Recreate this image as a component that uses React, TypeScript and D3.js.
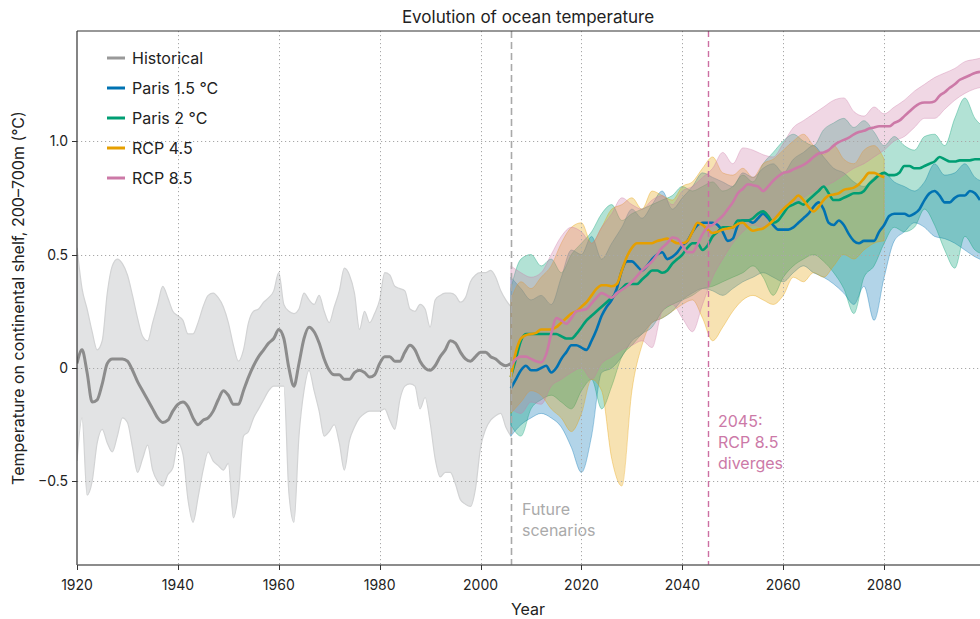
import React from 'react';
import * as d3 from 'd3';

const width = 980;
const height = 619;
const plot = { left: 77, right: 980, top: 31, bottom: 565 };
const font = 'Inter, "Noto Sans", sans-serif';

// historical record, 1920-2006
const histYears = d3.range(1920, 2007);
const histMean = [
  0.02, 0.08, -0.02, -0.15, -0.14, -0.07, 0.02, 0.04, 0.04, 0.04,
  0.03, -0.01, -0.06, -0.10, -0.14, -0.18, -0.22, -0.24, -0.23, -0.19,
  -0.16, -0.15, -0.17, -0.22, -0.25, -0.23, -0.22, -0.19, -0.14, -0.10,
  -0.12, -0.16, -0.16, -0.10, -0.04, 0.01, 0.05, 0.08, 0.11, 0.13,
  0.17, 0.13, 0.00, -0.08, 0.02, 0.13, 0.18, 0.16, 0.11, 0.04,
  -0.01, -0.03, -0.03, -0.05, -0.05, -0.02, -0.01, -0.02, -0.04, -0.03,
  0.02, 0.05, 0.05, 0.03, 0.03, 0.07, 0.10, 0.08, 0.03, 0.00,
  -0.01, 0.01, 0.05, 0.08, 0.12, 0.11, 0.07, 0.04, 0.03, 0.05,
  0.07, 0.07, 0.05, 0.04, 0.02, 0.01, 0.02,
];
const histUpper = [
  0.53, 0.35, 0.26, 0.16, 0.08, 0.12, 0.33, 0.45, 0.48, 0.46,
  0.41, 0.32, 0.22, 0.14, 0.12, 0.20, 0.28, 0.36, 0.31, 0.25,
  0.23, 0.21, 0.15, 0.15, 0.20, 0.27, 0.32, 0.33, 0.31, 0.27,
  0.20, 0.10, 0.03, 0.08, 0.20, 0.25, 0.26, 0.29, 0.31, 0.34,
  0.42, 0.28, 0.25, 0.24, 0.26, 0.33, 0.30, 0.28, 0.32, 0.25,
  0.20, 0.27, 0.34, 0.44, 0.41, 0.33, 0.17, 0.25, 0.20, 0.24,
  0.30, 0.42, 0.41, 0.36, 0.35, 0.34, 0.26, 0.25, 0.28, 0.26,
  0.18, 0.30, 0.32, 0.33, 0.33, 0.32, 0.29, 0.31, 0.38, 0.41,
  0.42, 0.42, 0.43, 0.40, 0.34, 0.30, 0.27,
];
const histLower = [
  -0.41, -0.22, -0.56, -0.50, -0.33, -0.27, -0.33, -0.37, -0.30, -0.22,
  -0.24, -0.35, -0.46, -0.40, -0.34, -0.45, -0.50, -0.52, -0.47, -0.44,
  -0.33, -0.38, -0.58, -0.68, -0.57, -0.45, -0.37, -0.41, -0.43, -0.45,
  -0.42, -0.66, -0.55, -0.30, -0.28, -0.22, -0.18, -0.14, -0.10, -0.08,
  -0.08, -0.08, -0.55, -0.68, -0.30, -0.10, -0.01, -0.10, -0.19, -0.30,
  -0.28, -0.25, -0.33, -0.45, -0.32, -0.26, -0.22, -0.20, -0.19, -0.19,
  -0.19, -0.18, -0.23, -0.27, -0.14, -0.08, -0.07, -0.08, -0.18, -0.13,
  -0.24, -0.40, -0.48, -0.46, -0.46, -0.51, -0.58, -0.60, -0.61, -0.53,
  -0.35, -0.27, -0.23, -0.21, -0.20, -0.26, -0.30,
];

// scenario means, yearly
const futureYears = d3.range(2006, 2100);
const rcp45Years = d3.range(2006, 2081);
const paris15Mean = [
  -0.09, -0.05, -0.01, 0.01, -0.01, -0.01, 0.00, 0.01, -0.02, 0.00,
  0.04, 0.07, 0.10, 0.10, 0.09, 0.08, 0.12, 0.17, 0.23, 0.27,
  0.30, 0.35, 0.43, 0.47, 0.47, 0.45, 0.43, 0.45, 0.48, 0.50,
  0.51, 0.48, 0.49, 0.51, 0.54, 0.56, 0.60, 0.63, 0.64, 0.64,
  0.64, 0.63, 0.60, 0.56, 0.57, 0.63, 0.65, 0.65, 0.64, 0.66,
  0.68, 0.66, 0.63, 0.61, 0.61, 0.61, 0.62, 0.64, 0.66, 0.68,
  0.71, 0.73, 0.70, 0.64, 0.63, 0.65, 0.63, 0.59, 0.56, 0.55,
  0.56, 0.56, 0.56, 0.60, 0.63, 0.67, 0.68, 0.68, 0.68, 0.67,
  0.68, 0.70, 0.74, 0.77, 0.78, 0.76, 0.73, 0.73, 0.75, 0.76,
  0.76, 0.78, 0.77, 0.74,
];
const paris2Mean = [
  -0.04, 0.04, 0.12, 0.15, 0.15, 0.15, 0.15, 0.15, 0.15, 0.15,
  0.14, 0.13, 0.13, 0.15, 0.18, 0.21, 0.23, 0.25, 0.27, 0.29,
  0.31, 0.33, 0.35, 0.37, 0.37, 0.37, 0.39, 0.41, 0.43, 0.43,
  0.42, 0.43, 0.46, 0.48, 0.50, 0.53, 0.55, 0.55, 0.52, 0.54,
  0.58, 0.60, 0.62, 0.62, 0.62, 0.65, 0.65, 0.65, 0.66, 0.68,
  0.69, 0.67, 0.64, 0.65, 0.68, 0.71, 0.72, 0.73, 0.72, 0.74,
  0.76, 0.78, 0.80, 0.77, 0.74, 0.74, 0.75, 0.76, 0.77, 0.77,
  0.78, 0.81, 0.83, 0.85, 0.86, 0.85, 0.85, 0.86, 0.89, 0.89,
  0.88, 0.88, 0.89, 0.90, 0.91, 0.93, 0.92, 0.91, 0.91, 0.915,
  0.915, 0.915, 0.92, 0.92,
];
const rcp45Mean = [
  -0.04, 0.07, 0.13, 0.145, 0.15, 0.155, 0.17, 0.17, 0.17, 0.18,
  0.20, 0.22, 0.24, 0.25, 0.27, 0.29, 0.32, 0.35, 0.365, 0.365,
  0.36, 0.37, 0.43, 0.49, 0.53, 0.55, 0.55, 0.55, 0.55, 0.56,
  0.565, 0.57, 0.56, 0.55, 0.55, 0.56, 0.60, 0.64, 0.63, 0.61,
  0.595, 0.60, 0.61, 0.615, 0.62, 0.635, 0.64, 0.62, 0.605, 0.61,
  0.615, 0.63, 0.65, 0.675, 0.70, 0.72, 0.74, 0.76, 0.74, 0.71,
  0.69, 0.71, 0.74, 0.76, 0.765, 0.77, 0.785, 0.79, 0.795, 0.81,
  0.835, 0.86, 0.86, 0.85, 0.84,
];
const rcp85Mean = [
  0.01, 0.04, 0.05, 0.05, 0.04, 0.03, 0.025, 0.06, 0.15, 0.22,
  0.21, 0.195, 0.22, 0.25, 0.255, 0.26, 0.285, 0.31, 0.33, 0.32,
  0.31, 0.33, 0.345, 0.36, 0.38, 0.405, 0.43, 0.45, 0.47, 0.50,
  0.53, 0.55, 0.575, 0.57, 0.54, 0.51, 0.51, 0.545, 0.59, 0.62,
  0.63, 0.65, 0.67, 0.70, 0.73, 0.77, 0.79, 0.81, 0.805, 0.80,
  0.78, 0.80, 0.825, 0.845, 0.86, 0.865, 0.875, 0.885, 0.895, 0.91,
  0.93, 0.945, 0.95, 0.96, 0.98, 0.995, 1.005, 1.015, 1.03, 1.04,
  1.045, 1.055, 1.06, 1.065, 1.065, 1.065, 1.08, 1.09, 1.11, 1.13,
  1.15, 1.165, 1.17, 1.17, 1.175, 1.20, 1.215, 1.235, 1.25, 1.27,
  1.28, 1.29, 1.30, 1.305,
];

// scenario ranges, every second year
const bandYears = d3.range(2006, 2101, 2);
const rcp45BandYears = d3.range(2006, 2081, 2);
const paris15Upper = [
  0.40, 0.35, 0.30, 0.32, 0.28, 0.40, 0.52, 0.50, 0.58, 0.48,
  0.55, 0.62, 0.70, 0.66, 0.72, 0.78, 0.70, 0.75, 0.80, 0.86,
  0.84, 0.82, 0.80, 0.86, 0.84, 0.88, 0.90, 0.86, 0.92, 0.95,
  0.98, 0.93, 0.88, 0.86, 0.82, 0.80, 0.84, 0.86, 0.82, 0.80,
  0.78, 0.82, 0.90, 0.85, 0.86, 0.90, 0.84, 0.82,
];
const paris15Lower = [
  -0.30, -0.25, -0.22, -0.20, -0.22, -0.26, -0.35, -0.46, -0.30, -0.02,
  0.00, 0.05, 0.12, 0.15, 0.20, 0.22, 0.25, 0.30, 0.33, 0.35,
  0.34, 0.32, 0.35, 0.38, 0.40, 0.42, 0.40, 0.38, 0.42, 0.45,
  0.42, 0.40, 0.37, 0.33, 0.28, 0.36, 0.21, 0.40, 0.56, 0.60,
  0.64, 0.62, 0.58, 0.57, 0.55, 0.52, 0.49, 0.47,
];
const paris2Upper = [
  0.35, 0.48, 0.50, 0.45, 0.48, 0.42, 0.50, 0.55, 0.60, 0.68,
  0.72, 0.65, 0.68, 0.70, 0.72, 0.74, 0.76, 0.80, 0.78, 0.80,
  0.82, 0.78, 0.80, 0.85, 0.82, 0.90, 0.95, 1.00, 1.03, 1.00,
  0.98, 1.05, 1.08, 1.10, 1.06, 1.09, 1.04, 0.98, 1.02, 0.98,
  0.96, 1.02, 1.03, 0.98, 1.10, 1.19, 1.10, 1.06,
];
const paris2Lower = [
  -0.25, -0.30, -0.18, -0.14, -0.12, -0.15, -0.18, -0.10, -0.05, -0.18,
  -0.08, 0.05, 0.10, 0.15, 0.18, 0.25, 0.28, 0.30, 0.32, 0.35,
  0.36, 0.38, 0.40, 0.42, 0.45, 0.40, 0.32, 0.40, 0.45, 0.48,
  0.50, 0.47, 0.42, 0.35, 0.24, 0.40, 0.45, 0.55, 0.62, 0.60,
  0.62, 0.70, 0.63, 0.52, 0.44, 0.58, 0.52, 0.50,
];
const rcp45Upper = [
  0.30, 0.38, 0.35, 0.40, 0.45, 0.55, 0.62, 0.64, 0.55, 0.62,
  0.70, 0.72, 0.75, 0.70, 0.78, 0.76, 0.74, 0.80, 0.82, 0.88,
  0.93, 0.86, 0.85, 0.88, 0.84, 0.90, 0.92, 0.96, 1.00, 1.03,
  0.98, 0.94, 0.98, 0.92, 0.90, 0.96, 0.98, 0.92,
];
const rcp45Lower = [
  -0.20, -0.15, -0.10, -0.12, -0.18, -0.22, -0.28, -0.20, -0.05, -0.10,
  -0.40, -0.52, -0.10, 0.10, 0.20, 0.22, 0.25, 0.28, 0.30, 0.22,
  0.12, 0.18, 0.25, 0.30, 0.32, 0.30, 0.28, 0.32, 0.40, 0.38,
  0.42, 0.40, 0.45, 0.50, 0.48, 0.52, 0.55, 0.56,
];
const rcp85Upper = [
  0.45, 0.42, 0.40, 0.42, 0.50, 0.58, 0.62, 0.60, 0.55, 0.62,
  0.68, 0.75, 0.72, 0.70, 0.74, 0.76, 0.72, 0.78, 0.80, 0.84,
  0.88, 0.95, 0.90, 0.97, 0.96, 0.94, 0.93, 0.99, 1.06, 1.09,
  1.12, 1.15, 1.18, 1.19, 1.13, 1.11, 1.15, 1.12, 1.15, 1.18,
  1.22, 1.25, 1.28, 1.30, 1.32, 1.35, 1.36, 1.37,
];
const rcp85Lower = [
  -0.18, -0.20, -0.15, -0.16, -0.08, -0.05, -0.02, 0.00, -0.05, 0.02,
  0.05, 0.08, 0.10, 0.12, 0.09, 0.25, 0.28, 0.22, 0.16, 0.28,
  0.40, 0.48, 0.55, 0.60, 0.63, 0.62, 0.66, 0.70, 0.72, 0.75,
  0.78, 0.80, 0.82, 0.85, 0.88, 0.90, 0.93, 0.96, 1.00, 1.02,
  1.06, 1.10, 1.10, 1.14, 1.18, 1.21, 1.23, 1.24,
];

const xTicks = [1920, 1940, 1960, 1980, 2000, 2020, 2040, 2060, 2080];
const yTicks = [-0.5, 0, 0.5, 1.0];
const yTickLabels = ['\u22120.5', '0', '0.5', '1.0'];

// drawn bottom to top
const scenarios = [
  { name: 'Paris 1.5 °C', color: '#0072b2', years: futureYears, mean: paris15Mean, bandYears, upper: paris15Upper, lower: paris15Lower },
  { name: 'Paris 2 °C', color: '#009e73', years: futureYears, mean: paris2Mean, bandYears, upper: paris2Upper, lower: paris2Lower },
  { name: 'RCP 4.5', color: '#e69f00', years: rcp45Years, mean: rcp45Mean, bandYears: rcp45BandYears, upper: rcp45Upper, lower: rcp45Lower },
  { name: 'RCP 8.5', color: '#cc79a7', years: futureYears, mean: rcp85Mean, bandYears, upper: rcp85Upper, lower: rcp85Lower },
];

const legendItems = [
  { name: 'Historical', color: '#999999' },
  { name: 'Paris 1.5 °C', color: '#0072b2' },
  { name: 'Paris 2 °C', color: '#009e73' },
  { name: 'RCP 4.5', color: '#e69f00' },
  { name: 'RCP 8.5', color: '#cc79a7' },
];

// put 1px lines on a pixel centre so they stay crisp
const crisp = (v: number) => Math.round(v) + 0.5;

export default function App() {
  const x = d3.scaleLinear().domain([1920, 2099]).range([plot.left, plot.right]);
  const y = d3.scaleLinear().domain([-0.868, 1.485]).range([plot.bottom, plot.top]);

  const line = (years: number[], vals: number[]) =>
    d3.line<number>().x((_, i) => x(years[i])).y(d => y(d)).curve(d3.curveMonotoneX)(vals) || '';
  const band = (years: number[], hi: number[], lo: number[]) =>
    d3.area<number>()
      .x((_, i) => x(years[i]))
      .y0((_, i) => y(lo[i]))
      .y1(d => y(d))
      .curve(d3.curveMonotoneX)(hi) || '';

  return (
    <svg width={width} height={height} style={{ position: 'absolute', left: 0, top: 0, background: '#fff' }} fontFamily={font}>
      <defs>
        <clipPath id="plot-clip">
          <rect x={plot.left} y={plot.top} width={plot.right - plot.left} height={plot.bottom - plot.top} />
        </clipPath>
      </defs>

      <g clipPath="url(#plot-clip)">
        <path d={band(histYears, histUpper, histLower)} fill="#e2e3e4" stroke="#d2d3d4" strokeWidth={1.2} />
        {scenarios.map(s => (
          <path key={s.name + 'band'} d={band(s.bandYears, s.upper, s.lower)}
            fill={s.color} fillOpacity={0.3} stroke={s.color} strokeOpacity={0.35} strokeWidth={1} />
        ))}

        {/* grid */}
        {xTicks.slice(1).map(t => (
          <line key={'gx' + t} x1={crisp(x(t))} x2={crisp(x(t))} y1={plot.top} y2={plot.bottom}
            stroke="#a8a8a8" strokeWidth={1} strokeDasharray="1.2,2.8" />
        ))}
        {yTicks.map(t => (
          <line key={'gy' + t} x1={plot.left} x2={plot.right} y1={crisp(y(t))} y2={crisp(y(t))}
            stroke="#a8a8a8" strokeWidth={1} strokeDasharray="1.2,2.8" />
        ))}

        <path d={line(histYears, histMean)} fill="none" stroke="#8c8c8c" strokeWidth={3} />
        {scenarios.map(s => (
          <path key={s.name + 'line'} d={line(s.years, s.mean)} fill="none" stroke={s.color} strokeWidth={2.6} />
        ))}

        <line x1={crisp(x(2006))} x2={crisp(x(2006))} y1={plot.top} y2={plot.bottom} stroke="#a9a9a9" strokeWidth={1.6} strokeDasharray="7,4" />
        <line x1={crisp(x(2045))} x2={crisp(x(2045))} y1={plot.top} y2={plot.bottom} stroke="#cc6fa2" strokeWidth={1.4} strokeDasharray="6,4" />
      </g>

      {/* annotations */}
      <text x={522} y={515} fontSize={16} fill="#aaaaaa">Future</text>
      <text x={522} y={536} fontSize={16} fill="#aaaaaa">scenarios</text>
      <text x={718} y={427} fontSize={16} fill="#cc79a7">2045:</text>
      <text x={718} y={448} fontSize={16} fill="#cc79a7">RCP 8.5</text>
      <text x={718} y={469} fontSize={16} fill="#cc79a7">diverges</text>

      {/* frame */}
      <line x1={plot.left} x2={plot.right} y1={plot.top} y2={plot.top} stroke="#333" strokeWidth={1.2} />
      <line x1={plot.left} x2={plot.left} y1={plot.top} y2={plot.bottom} stroke="#333" strokeWidth={1.2} />
      <line x1={plot.left} x2={plot.right} y1={plot.bottom} y2={plot.bottom} stroke="#666" strokeWidth={1.4} />

      {/* axes */}
      {xTicks.map(t => (
        <g key={'xt' + t}>
          <line x1={crisp(x(t))} x2={crisp(x(t))} y1={plot.bottom} y2={plot.bottom + 5} stroke="#333" />
          <text x={x(t)} y={590} fontSize={14} textAnchor="middle" fill="#222">{t}</text>
        </g>
      ))}
      {yTicks.map((t, i) => (
        <g key={'yt' + t}>
          <line x1={plot.left - 5} x2={plot.left} y1={crisp(y(t))} y2={crisp(y(t))} stroke="#333" />
          <text x={68} y={y(t) + 5} fontSize={14} textAnchor="end" fill="#222">{yTickLabels[i]}</text>
        </g>
      ))}

      <text x={528} y={615} fontSize={16} textAnchor="middle" fill="#222">Year</text>
      <text transform={`translate(24, ${(plot.top + plot.bottom) / 2}) rotate(-90)`} fontSize={16}
        textAnchor="middle" fill="#222">Temperature on continental shelf, 200–700m (°C)</text>
      <text x={528} y={23} fontSize={17} textAnchor="middle" fill="#222">Evolution of ocean temperature</text>

      {/* legend */}
      {legendItems.map((d, i) => (
        <g key={d.name} transform={`translate(0, ${58 + i * 30})`}>
          <line x1={107} x2={125} y1={0} y2={0} stroke={d.color} strokeWidth={3} />
          <text x={132} y={5.5} fontSize={16} fill="#222">{d.name}</text>
        </g>
      ))}
    </svg>
  );
}
